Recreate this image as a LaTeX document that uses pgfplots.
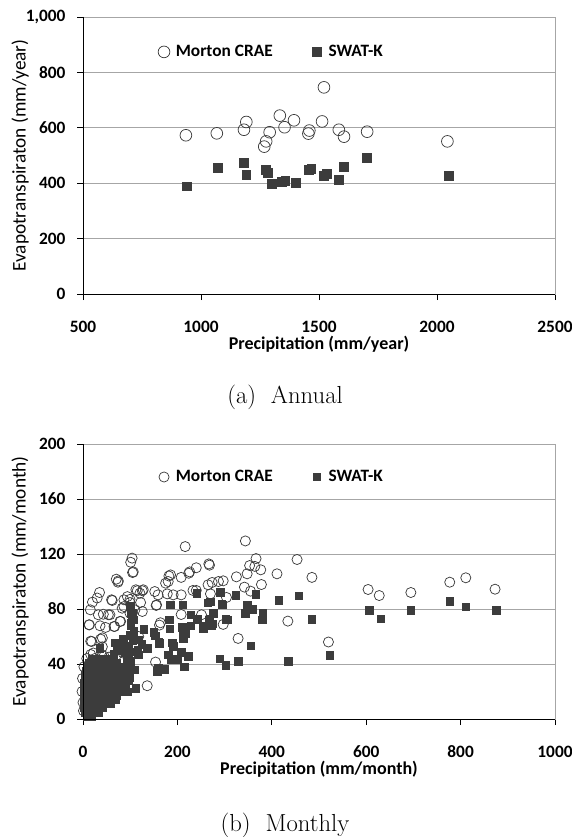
\documentclass[border=0pt]{standalone}
\usepackage{fontspec}
\usepackage{pgfplots}
\pgfplotsset{compat=1.18}
\newfontfamily\calibri{Carlito}
\definecolor{mk}{HTML}{3C3C3C}
\definecolor{gridc}{HTML}{A6A6A6}

\pgfplotsset{
  etplot/.style={
    scale only axis,
    anchor=south west,
    width=354pt,
    /pgf/number format/assume math mode=true,
    axis line style={gridc, line width=0.6pt},
    ymajorgrids,
    major grid style={gridc, line width=0.6pt},
    tick align=outside,
    xtick pos=left, ytick pos=left,
    major tick length=4.5pt,
    tick style={black, line width=0.6pt},
    every tick label/.append style={font=\calibri\bfseries\fontsize{13}{15}\selectfont},
    xticklabel style={anchor=center, yshift=-20pt},
    yticklabel style={anchor=east, inner sep=0pt, xshift=-8.5pt},
    xlabel style={at={(axis description cs:0.5,0)}, anchor=center, yshift=-38pt,
      font=\calibri\bfseries\fontsize{13.5}{15}\selectfont},
    ylabel style={at={(axis description cs:-0.133,0.5)}, anchor=center,
      font=\calibri\fontsize{14.5}{16}\selectfont},
    legend style={draw=none, fill=none, anchor=west, legend columns=2,
      font=\calibri\bfseries\fontsize{13}{15}\selectfont,
      /tikz/every even column/.append style={column sep=26.5pt}},
    legend image code/.code={\path (0cm,0cm) (0.384cm,0cm);
      \draw[mark repeat=2,mark phase=2,##1] plot coordinates {(0cm,0cm) (0.15cm,0cm) (0.3cm,0cm)};},
    after end axis/.append code={\draw[black, line width=0.7pt] (rel axis cs:0,1) -- (rel axis cs:0,0) -- (rel axis cs:1,0);},
  },
  crae/.style={only marks, mark=o, mark size=#1, mark options={draw=mk, line width=0.55pt}},
  swat/.style={only marks, mark=square*, mark size=#1, mark options={draw=mk, fill=mk}},
}

\begin{document}
\begin{tikzpicture}
\useasboundingbox (0,0) rectangle (428.25pt,-627.75pt);

% ---------- (a) Annual ----------
\begin{axis}[etplot,
  at={(62.25pt,-220.5pt)}, height=207.75pt,
  xmin=500, xmax=2500, ymin=0, ymax=1000,
  xtick={500,1000,...,2500}, ytick={0,200,...,1000},
  xticklabel style={/pgf/number format/1000 sep={}},
  yticklabel style={/pgf/number format/1000 sep={,}},
  xlabel={Precipitation (mm/year)},
  ylabel={Evapotranspiraton (mm/year)},
  legend style={at={(0.15,0.874)}},
]
\addplot[crae=4.4pt] coordinates {
(936,573) (1067,580) (1182,593) (1192,621) (1268,532) (1276,551) (1291,584)
(1334,644) (1354,602) (1394,627) (1455,579) (1459,590) (1513,623) (1521,746)
(1584,593) (1606,568) (1704,586) (2044,551)};
\addplot[swat=3.3pt] coordinates {
(939,389) (1071,457) (1182,474) (1192,431) (1276,448) (1284,438) (1299,398)
(1342,406) (1357,410) (1402,402) (1458,448) (1467,451) (1521,427) (1532,434)
(1584,412) (1606,458) (1704,492) (2050,426)};
\legend{Morton CRAE, SWAT-K}
\end{axis}

% ---------- (b) Monthly ----------
\begin{axis}[etplot,
  at={(62.25pt,-539.25pt)}, height=206.25pt,
  clip=false,
  xmin=0, xmax=1000, ymin=0, ymax=200,
  xtick={0,200,...,1000}, ytick={0,40,...,200},
  xticklabel style={/pgf/number format/1000 sep={}},
  xlabel={Precipitation (mm/month)},
  ylabel={Evapotranspiraton (mm/month)},
  legend style={at={(0.15,0.88)}},
]
\addplot[crae=3.8pt] coordinates {
(344,129.5) (216.5,125.4) (104,117) (101,114) (106.5,107) (70.5,101.7) (74,99.5)
(35,92) (60.6,86.7) (112,94) (127.6,94) (152,92.7) (159,90.3) (182,104)
(180.5,100) (208,103) (226,107) (240,110) (266.6,112.8) (268,111.9) (265,97.6)
(287,100) (297,100.5) (325,103.4) (347.7,105.6) (366.6,116.7) (353,111.6)
(364,111) (376.6,108.5) (411,105.6) (453.5,116) (485,103) (378,97.8) (342,95.9)
(355,93) (604,94.2) (627.6,89.8) (694.6,92) (777,99.5) (811,102.7) (873,94.4)
(434,71.2) (328.6,58.6) (520,56) (297,68.8) (162,68.3) (208,76) (251,75.8)
(155,82.6) (240,93.5) (233,93.5) (208,90.3) (178.5,91) (175,98.8) (304,88.4)
(273.6,99.3) (270,91) (153.7,41.4) (136,24.2) (15.5,79.4) (13.4,68.5)
(32.4,75.8) (53.6,75.8) (67,67.3) (105,106.5) (74.8,100.4) (62,86.2) (99.5,87)
(115,93.3) (125.6,93.3) (86.8,81.8) (43,76.2) (57,75.8) (12.7,68.5) (36,67.8)
(47.7,66.6) (41,59) (16.3,56.6) (41,52.5) (16.3,46.9) (44.5,45.7) (18.4,56.4)
(37.4,58.1) (21.9,48) (39.5,46.7) (78.3,71) (99.5,77) (110,79.4) (155.9,83)
(191,90.3) (120.6,91.5) (86.7,86.7) (94,89) (99.4,84.7) (83,80.6) (122,84.7)
(125.6,78.2) (65.6,67.3) (79.7,71) (-1,29.5) (-2,20) (0,12) (1,6) (2,38) (8,44)
(25,44) (55,45) (70,46) (85,48) (30,88) (20,85) (224,106) (185.5,104.8)
(164,70) (118,60) (20,30) (45,25) (30,15) (60,20) (10,25) (50,35)};
\addplot[swat=2.8pt] coordinates {
(240.5,91.5) (291,92.3) (324,90) (366,90.6) (414.7,86.4) (457,89.8) (485,72.6)
(379.4,72.2) (381,77) (342.7,77) (347.7,83) (354.7,80) (296,83) (303,72.6)
(276.4,77) (264.4,84.7) (268.7,72.6) (254.6,65.9) (272,67.8) (228.5,75.8)
(241.8,72.6) (228.5,68) (211,83) (184,83) (182,72.2) (184,65.6) (211,65.4)
(212,58.8) (217,62) (191,52.8) (208,48.7) (223,45.5) (215,37.8) (199.6,43.8)
(186,43) (173,36.3) (157,34.6) (290,44) (303,39.2) (328.6,42.1) (355,53.3)
(435,42.1) (523,46.2) (606,79) (631,73) (694,79) (777,85.7) (811,81.8) (876,79)
(129,65.4) (137.5,51.3) (102,77) (104,74.6) (101,69.7) (108,62.5) (117,57.6)
(116,50.4) (97,45.5) (79.7,54.7) (36,51.6) (65.6,47) (94,38) (97,31) (86.7,26)
(112,22.3) (153,60.5) (160,54.7) (161,55.9) (189.6,55.6) (180.5,46.6)
(192.5,43.9) (150.3,63.2) (210,66.8) (253.7,68) (273.6,69.2) (266.6,72.2)
(277,77) (305.5,72.2) (183.4,72.2) (270,85.3) (294,83.6) (185.5,83) (211.6,83)
(344,77) (358.5,79.8)
(100,82) (104,77) (107,72) (101,68) (108,64) (99,61) (105,57) (97,53) (103,49)
(95,46) (100,42) (93,39) (98,35) (92,32) (96,28) (90,24) (94,20)
(124.6,54.4) (134.8,51.3) (117,46.7) (92.4,45.5) (78.3,51.6) (68,55.3) (82,55.3)
(110,35.8) (99.5,29.8) (159.4,37) (198,43.3) (163,55) (73,50) (85,58) (90,48)
(8,2) (18,2)
(4,5) (14,5) (24,5) (32,5)
(3,8) (13,8) (23,8) (33,8) (42,8)
(2,11) (12,11) (22,11) (32,11) (42,11) (52,11) (58,11)
(2,14) (12,14) (22,14) (32,14) (42,14) (52,14) (62,14) (68,14)
(3,17) (13,17) (23,17) (33,17) (43,17) (53,17) (63,17) (72,17)
(2,20) (12,20) (22,20) (32,20) (42,20) (52,20) (62,20) (72,20) (79,20)
(3,23) (13,23) (23,23) (33,23) (43,23) (53,23) (63,23) (73,23) (81,23)
(3,26) (13,26) (23,26) (33,26) (43,26) (53,26) (63,26) (73,26) (83,26)
(4,29) (14,29) (24,29) (34,29) (44,29) (54,29) (64,29) (74,29) (84,29)
(4,32) (14,32) (24,32) (34,32) (44,32) (54,32) (64,32) (74,32) (85,32)
(6,35) (16,35) (26,35) (36,35) (46,35) (56,35) (66,35) (76,35) (84,35)
(8,38) (18,38) (28,38) (38,38) (48,38) (58,38) (68,38) (78,38)
(12,41) (22,41) (32,41) (42,41) (52,41) (62,41) (72,41)
(20,44) (34,44) (46,44) (60,44)};
\legend{Morton CRAE, SWAT-K}
\end{axis}

\node[font=\fontsize{18.5}{20}\selectfont] at (213.75pt,-297.75pt) {(a)\ \ Annual};
\node[font=\fontsize{18.5}{20}\selectfont] at (213.75pt,-618.75pt) {(b)\ \ Monthly};
\end{tikzpicture}
\end{document}
